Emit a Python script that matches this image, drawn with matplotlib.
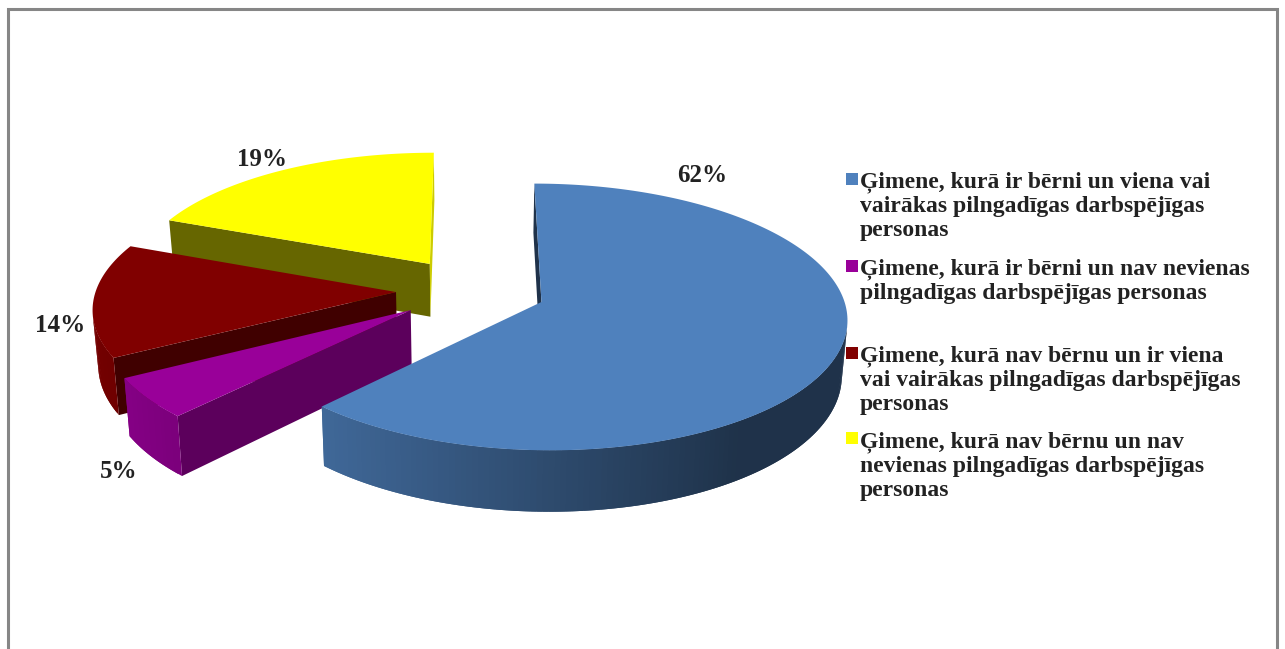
import numpy as np
import matplotlib
matplotlib.use("Agg")
import matplotlib.pyplot as plt
from matplotlib.patches import Polygon, Rectangle

# === DATA ===
shares = [62, 5, 14, 19]
pct_labels = ["62%", "5%", "14%", "19%"]
legend_labels = [
    "Ģimene, kurā ir bērni un viena vai\nvairākas pilngadīgas darbspējīgas\npersonas",
    "Ģimene, kurā ir bērni un nav nevienas\npilngadīgas darbspējīgas personas",
    "Ģimene, kurā nav bērnu un ir viena\nvai vairākas pilngadīgas darbspējīgas\npersonas",
    "Ģimene, kurā nav bērnu un nav\nnevienas pilngadīgas darbspējīgas\npersonas",
]
colors = ["#4f81bd", "#990099", "#800000", "#ffff00"]

# === STYLE / LAYOUT ===
start_shade = [0.39, 0.6, 0.5, 0.4]
pct_pos = [(702, 176), (119, 471), (60, 325), (262, 159)]
legend_y = [171, 258, 345, 431]
marker_y = [173, 260, 347, 432]
cx, cy = 471, 290
rx, ry = 300, 129
persp = 0.111
explode = 0.25
depth = 54
bottom_shrink = 0.985
font = "Liberation Serif"


def project(u, v):
    s = 1 / (1 - persp * v)
    return cx + s * u * rx, cy + s * v * ry, s


def top_pt(u, v):
    x, y, s = project(u, v)
    return x, y


def bot_pt(u, v):
    x, y, s = project(u, v)
    return cx + (x - cx) * bottom_shrink, y + depth * s


def area(pts):
    pts = np.array(pts)
    x, y = pts[:, 0], pts[:, 1]
    return 0.5 * np.sum(x * np.roll(y, -1) - np.roll(x, -1) * y)


def shade(col, f):
    rgb = np.array(matplotlib.colors.to_rgb(col))
    return tuple(rgb * f)


fig = plt.figure(figsize=(12.85, 6.49), dpi=100)
ax = fig.add_axes([0, 0, 1, 1])
ax.set_xlim(0, 1285)
ax.set_ylim(649, 0)
ax.axis("off")

# chart frame, runs off the bottom of the picture
ax.add_patch(Rectangle((7.5, 9), 1269.5, 660, fc="white", ec="#868686", lw=2.2))

fractions = np.array(shares) / sum(shares)
edges = np.concatenate([[0], np.cumsum(fractions)]) * 2 * np.pi

# back slices first, blue goes on top
for i in [3, 2, 1, 0]:
    th0, th1 = edges[i], edges[i + 1]
    mid = (th0 + th1) / 2
    ou, ov = explode * np.sin(mid), -explode * np.cos(mid)
    thetas = np.linspace(th0, th1, max(int(np.degrees(th1 - th0)), 2) + 1)
    us = ou + np.sin(thetas)
    vs = ov - np.cos(thetas)

    # radial walls
    a_top, a_bot = top_pt(ou, ov), bot_pt(ou, ov)
    wall0 = [a_top, top_pt(us[0], vs[0]), bot_pt(us[0], vs[0]), a_bot]
    if area(wall0) < 0:
        ax.add_patch(Polygon(wall0, fc=shade(colors[i], start_shade[i]), ec="none"))
    wall1 = [a_top, top_pt(us[-1], vs[-1]), bot_pt(us[-1], vs[-1]), a_bot]
    if area(wall1) > 0:
        ax.add_patch(Polygon(wall1, fc=shade(colors[i], 0.8), ec="none"))

    # outer rim, shaded by the way it faces; each quad overlaps the next to hide seams
    for j in range(len(thetas) - 1):
        k = min(j + 2, len(thetas) - 1)
        quad = [top_pt(us[j], vs[j]), top_pt(us[k], vs[k]),
                bot_pt(us[k], vs[k]), bot_pt(us[j], vs[j])]
        if area(quad) < 0:
            f = np.clip(0.58 - 0.33 * np.sin((thetas[j] + thetas[j + 1]) / 2), 0.39, 1)
            ax.add_patch(Polygon(quad, fc=shade(colors[i], f), ec="none"))

    # top face
    top = [a_top] + [top_pt(u, v) for u, v in zip(us, vs)]
    ax.add_patch(Polygon(top, fc=colors[i], ec="none"))

# percent labels
for lab, (x, y) in zip(pct_labels, pct_pos):
    ax.text(x, y, lab, ha="center", va="center", fontsize=18, family=font,
            fontweight="bold", color="#222222")

# legend
for lab, col, ty, my in zip(legend_labels, colors, legend_y, marker_y):
    ax.add_patch(Rectangle((846, my), 12, 12, fc=col, ec="none"))
    ax.text(860, ty, lab, ha="left", va="top", fontsize=17, family=font,
            fontweight="bold", color="#222222", linespacing=1.2)

fig.savefig("out.png", dpi=100)
